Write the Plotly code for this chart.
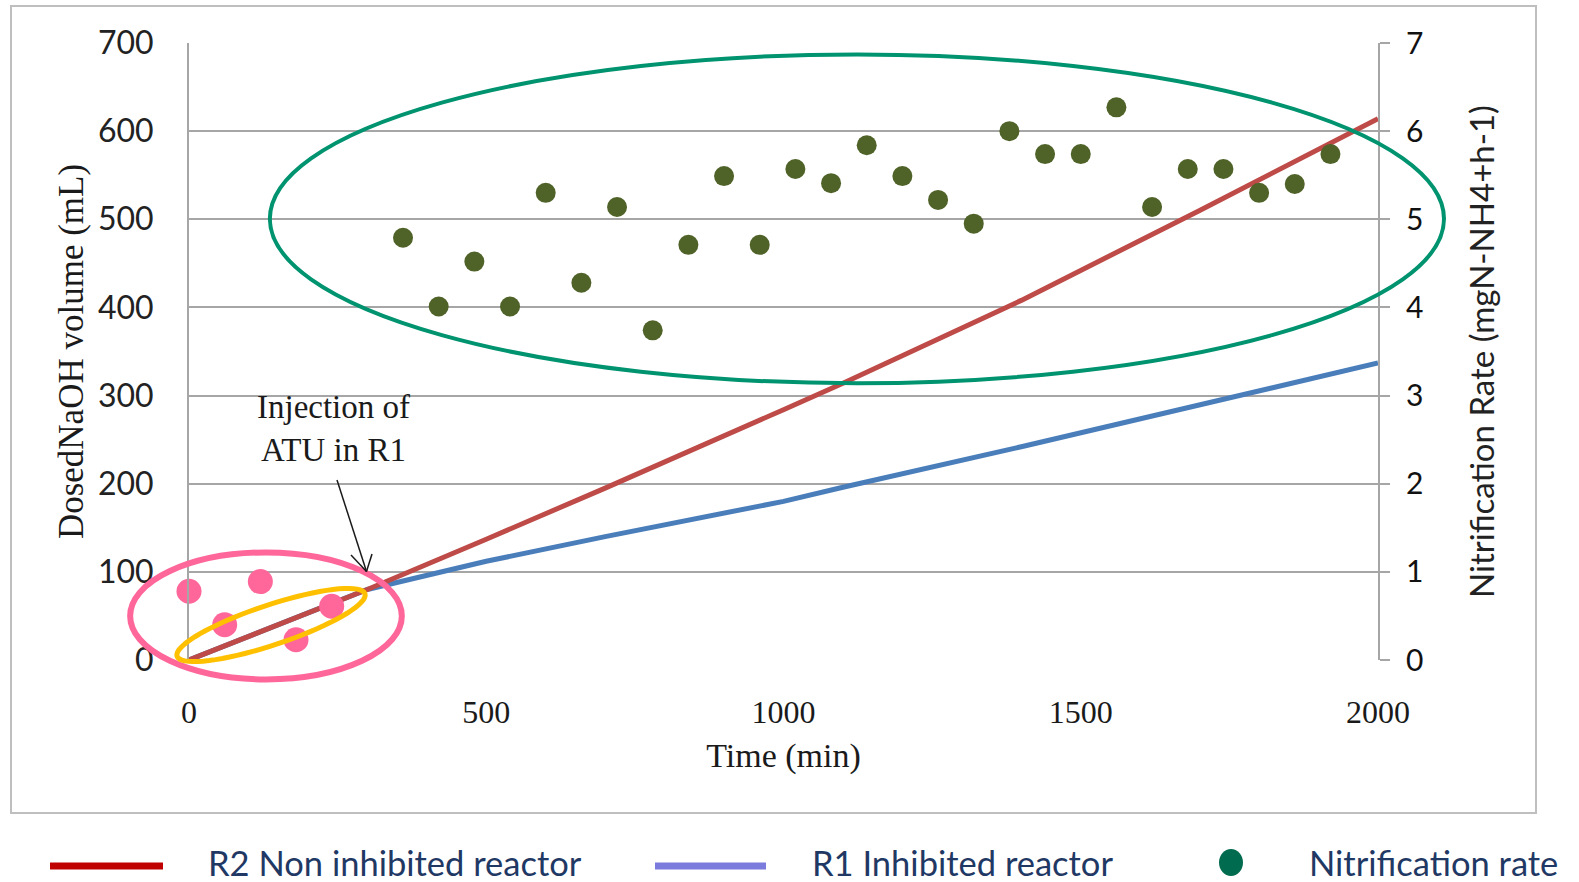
import plotly.graph_objects as go
import numpy as np

# ---------------- data ----------------
time_r2 = [0, 300, 500, 700, 1000, 1100, 1400, 1700, 2000]
naoh_r2 = [0, 80, 137, 195, 284, 314, 408, 510, 614]

time_r1 = [0, 300, 500, 700, 1000, 1100, 1400, 1700, 2000]
naoh_r1 = [0, 80, 112, 140, 180, 196, 242, 289, 337]

time_nit = [0, 60, 120, 180, 240,
            360, 420, 480, 540, 600, 660, 720, 780, 840, 900, 960, 1020, 1080,
            1140, 1200, 1260, 1320, 1380, 1440, 1500, 1560, 1620, 1680, 1740,
            1800, 1860, 1920]
rate_nit = [0.78, 0.40, 0.89, 0.23, 0.61,
            4.79, 4.01, 4.52, 4.01, 5.30, 4.28, 5.14, 3.74, 4.71, 5.49, 4.71,
            5.57, 5.41, 5.84, 5.49, 5.22, 4.95, 6.00, 5.74, 5.74, 6.27, 5.14,
            5.57, 5.57, 5.30, 5.40, 5.74]
n_before_injection = 5

x_ticks = [0, 500, 1000, 1500, 2000]
y_left_ticks = [0, 100, 200, 300, 400, 500, 600, 700]
y_right_ticks = [0, 1, 2, 3, 4, 5, 6, 7]

legend_labels = ["R2 Non inhibited reactor", "R1 Inhibited reactor", "Nitrification rate"]

# ---------------- layout geometry ----------------
W, H = 1579, 882
L, R, T, B = 189, 1378, 43, 660          # plot area in pixels
XR = (0, 2000)
YR = (0, 700)

def px(X):   # pixel x -> paper
    return (X - L) / (R - L)

def py(Y):   # pixel y -> paper
    return (B - Y) / (B - T)

def dx(v):   # data x -> paper
    return (v - XR[0]) / (XR[1] - XR[0])

def dy(v):   # data y (left axis) -> paper
    return (v - YR[0]) / (YR[1] - YR[0])

SERIF = "Liberation Serif, Times New Roman, serif"
SANS = "Lato, Open Sans, sans-serif"
GRID = "#A6A6A6"

fig = go.Figure()

fig.add_trace(go.Scatter(x=time_r1, y=naoh_r1, mode="lines",
                         line=dict(color="#4A7EBB", width=5),
                         name=legend_labels[1], showlegend=False))
fig.add_trace(go.Scatter(x=time_r2, y=naoh_r2, mode="lines",
                         line=dict(color="#BE4B48", width=5),
                         name=legend_labels[0], showlegend=False))

marker_colors = ["#FF6699"] * n_before_injection + ["#4F6228"] * (len(time_nit) - n_before_injection)
marker_sizes = [25] * n_before_injection + [20] * (len(time_nit) - n_before_injection)
fig.add_trace(go.Scatter(x=time_nit, y=rate_nit, mode="markers", yaxis="y2",
                         marker=dict(color=marker_colors, size=marker_sizes, opacity=1,
                                     line=dict(width=0)),
                         opacity=1,
                         name=legend_labels[2], showlegend=False, cliponaxis=False))

shapes = []
# outer frame
shapes.append(dict(type="rect", xref="paper", yref="paper",
                   x0=px(11), x1=px(1536), y0=py(813), y1=py(6),
                   line=dict(color="#BFBFBF", width=2), layer="below"))

# green ellipse (data region)
shapes.append(dict(type="circle", xref="paper", yref="paper",
                   x0=dx(136), x1=dx(2111), y0=dy(314), y1=dy(687),
                   line=dict(color="#00936F", width=4), layer="above"))
# pink ellipse
shapes.append(dict(type="circle", xref="paper", yref="paper",
                   x0=dx(-99), x1=dx(358), y0=dy(-22), y1=dy(122),
                   line=dict(color="#FF6699", width=6), layer="above"))
# yellow rotated ellipse (path)
cx, cy = 271, 625
a, b = 99, 20
ang = np.deg2rad(18.4)
th = np.linspace(0, 2 * np.pi, 73)
ex = cx + a * np.cos(th) * np.cos(ang) + b * np.sin(th) * np.sin(ang)
ey = cy - a * np.cos(th) * np.sin(ang) + b * np.sin(th) * np.cos(ang)
path = "M " + " L ".join(f"{px(X):.5f},{py(Y):.5f}" for X, Y in zip(ex, ey)) + " Z"
shapes.append(dict(type="path", xref="paper", yref="paper", path=path,
                   line=dict(color="#FFC000", width=5), layer="above"))

# annotation arrow
ARC = "#1a1a1a"
shapes.append(dict(type="line", xref="paper", yref="paper",
                   x0=px(337), y0=py(480), x1=px(366.5), y1=py(571.5),
                   line=dict(color=ARC, width=1.5)))
shapes.append(dict(type="line", xref="paper", yref="paper",
                   x0=px(351), y0=py(555), x1=px(366.5), y1=py(571.5),
                   line=dict(color=ARC, width=1.5)))
shapes.append(dict(type="line", xref="paper", yref="paper",
                   x0=px(372), y0=py(554), x1=px(366.5), y1=py(571.5),
                   line=dict(color=ARC, width=1.5)))

# manual legend
LEG_Y = 866
shapes.append(dict(type="line", xref="paper", yref="paper",
                   x0=px(50), x1=px(163), y0=py(LEG_Y), y1=py(LEG_Y),
                   line=dict(color="#C00000", width=7)))
shapes.append(dict(type="line", xref="paper", yref="paper",
                   x0=px(655), x1=px(766), y0=py(LEG_Y), y1=py(LEG_Y),
                   line=dict(color="#7B7BDE", width=7)))
shapes.append(dict(type="circle", xref="paper", yref="paper",
                   x0=px(1219), x1=px(1243), y0=py(876), y1=py(849),
                   fillcolor="#006B4F", line=dict(width=0)))

annotations = []
annotations.append(dict(xref="paper", yref="paper", x=px(333), y=py(428),
                        text="Injection of<br>ATU in R1", showarrow=False,
                        font=dict(family=SERIF, size=33, color="#1a1a1a"),
                        align="center", xanchor="center", yanchor="middle"))
LEG_COL = "#1F3864"
for X, txt in zip([206, 810, 1307], legend_labels):
    annotations.append(dict(xref="paper", yref="paper", x=px(X), y=py(862),
                            text=txt, showarrow=False, xanchor="left", yanchor="middle",
                            font=dict(family=SANS, size=34.5, color=LEG_COL)))

fig.update_layout(
    width=W, height=H,
    margin=dict(l=L, r=W - R, t=T, b=H - B, pad=0),
    paper_bgcolor="white", plot_bgcolor="white",
    showlegend=False,
    shapes=shapes, annotations=annotations,
    xaxis=dict(range=list(XR), tickvals=x_ticks, ticktext=[str(v) for v in x_ticks],
               showgrid=False, zeroline=False, showline=False, ticks="",
               ticklabelstandoff=30,
               tickfont=dict(family=SERIF, size=32, color="#1a1a1a"),
               title=dict(text="Time (min)", standoff=14,
                          font=dict(family=SERIF, size=34, color="#1a1a1a"))),
    yaxis=dict(range=list(YR), tickvals=y_left_ticks,
               showgrid=True, gridcolor=GRID, gridwidth=2,
               zeroline=False, showline=True, linecolor=GRID, linewidth=2,
               ticks="", ticklabelstandoff=27,
               tickfont=dict(family=SANS, size=32, color="#222222"),
               title=dict(text="DosedNaOH volume (mL)", standoff=4,
                          font=dict(family=SERIF, size=35, color="#1a1a1a"))),
    yaxis2=dict(range=[0, 7], tickvals=y_right_ticks, overlaying="y", side="right",
                showgrid=False, zeroline=False, showline=True, linecolor=GRID, linewidth=2,
                ticks="outside", ticklen=10, tickcolor=GRID, tickwidth=2,
                ticklabelstandoff=10,
                tickfont=dict(family=SANS, size=30, color="#111111"),
                title=dict(text="Nitrification Rate (mgN-NH4+h-1)", standoff=48,
                           font=dict(family=SANS, size=33, color="#222222"))),
)

fig.write_html("out.html", config={"displayModeBar": False},
               post_script="document.body.style.margin='0px';document.body.style.overflow='hidden';")
